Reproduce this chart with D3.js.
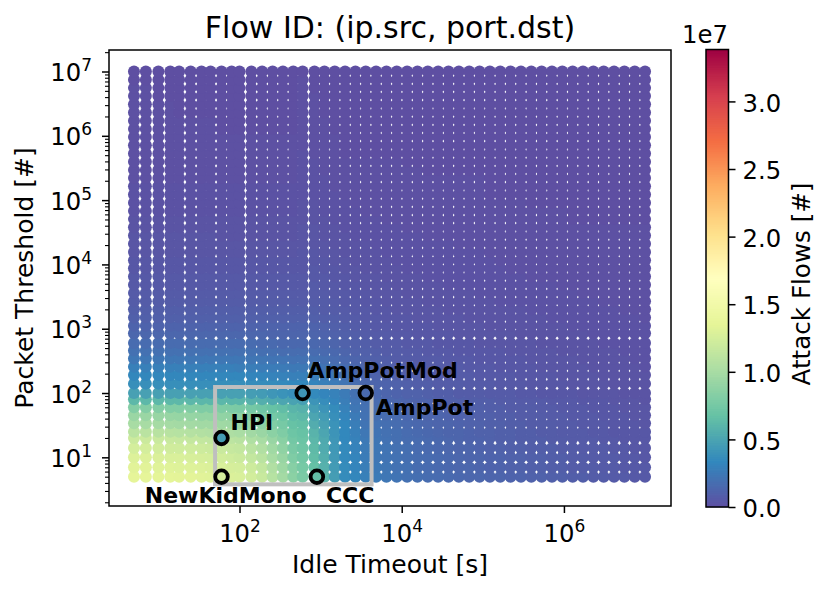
<!DOCTYPE html>
<html><head><meta charset="utf-8">
<script src="https://cdn.jsdelivr.net/npm/d3@7"></script>
<style>html,body{margin:0;padding:0;background:#fff}svg{display:block;font-family:"DejaVu Sans",sans-serif}</style>
</head><body><svg id="c" width="831" height="594"></svg>
<script>
const idleTimeouts=[5,7,10,14,18,25,34,44,60,80,100,140,190,256,343,460,600,840,1114,1494,2003,2686,3600,4829,6478,8690,11657,15637,20976,28138,37745,50632,67919,91108,122215,163943,219918,295004,395726,530838,712079,955201,1281332,1718808,2305650,3092854,4148829,5565336,7465472,10000000];
const packetThresholds=[5,7,10,14,20,25,34,45,60,80,100,140,190,256,343,460,600,850,1114,1494,2003,2686,3600,4829,6478,8690,11657,15637,20976,28138,37745,50632,67919,91108,122215,163943,219918,295004,395726,530838,712079,955201,1281332,1718808,2305650,3092854,4148829,5565336,7465472,10000000];
// attack flows in units of 1e5; one row per packet threshold, one column per idle timeout
const flowRows=[
[136,136,135,135,134,134,133,132,131,129,128,124,118,108,98,86,78,68,60,46,36,33,29,26,24,22,20,19,18,17,16,15,14,14,13,13,12,12,11,11,10,10,9,9,8,8,7,7,6,6],
[133,133,132,132,131,131,130,129,128,126,125,121,115,105,95,84,76,67,58,45,36,32,28,25,23,21,20,18,17,16,15,14,14,13,12,12,11,11,10,10,9,9,8,8,8,7,7,6,6,6],
[130,130,129,128,128,127,126,125,124,122,120,115,110,100,92,80,74,65,56,44,35,32,27,24,22,21,19,18,17,16,15,14,13,13,12,12,11,11,10,10,9,9,8,8,7,7,7,6,6,5],
[125,125,124,123,122,122,121,120,119,117,115,110,105,96,88,77,72,63,54,43,35,31,26,24,22,20,19,17,16,15,14,13,13,12,11,11,10,10,9,9,9,8,8,7,7,7,6,6,5,5],
[120,120,119,118,117,116,115,114,113,111,109,104,100,92,85,74,70,61,53,42,34,30,25,23,21,19,18,17,16,15,14,13,12,12,11,10,10,9,9,9,8,8,7,7,7,6,6,5,5,5],
[110,110,109,109,108,107,106,105,104,103,101,97,93,86,80,71,68,59,51,41,34,29,24,22,20,19,17,16,15,14,13,13,12,11,11,10,10,9,9,8,8,7,7,7,6,6,5,5,5,5],
[100,100,99,99,98,98,97,97,96,95,94,91,87,81,76,68,66,55,48,40,34,28,22,21,19,18,16,15,14,13,13,12,11,11,10,10,9,9,8,8,8,7,7,6,6,6,5,5,5,4],
[93,93,92,92,91,91,90,90,89,88,87,84,80,75,71,64,62,51,45,38,32,26,21,19,18,17,15,14,13,13,12,11,11,10,10,9,9,8,8,8,7,7,6,6,6,5,5,5,4,4],
[82,82,82,81,81,81,80,80,80,79,78,75,72,68,65,60,58,46,41,36,30,24,20,18,17,15,14,13,12,12,11,11,10,10,9,9,8,8,8,7,7,6,6,6,5,5,5,4,4,4],
[62,62,62,62,62,61,61,61,61,60,60,58,56,53,51,49,47,41,37,32,28,22,19,17,15,14,13,12,12,11,10,10,9,9,9,8,8,7,7,7,6,6,6,5,5,5,4,4,4,3],
[48,48,48,48,48,48,48,48,48,48,48,46,45,42,40,38,37,35,32,30,26,20,17,15,13,12,11,11,10,9,9,8,8,8,7,7,7,6,6,5,5,5,5,4,4,4,4,3,3,3],
[38,38,38,38,38,38,38,38,38,38,38,37,37,36,35,34,34,32,29,27,23,18,15,13,12,11,10,9,9,8,8,8,7,7,7,6,6,6,5,5,5,5,4,4,4,4,3,3,3,3],
[33,33,33,33,33,33,33,33,33,33,33,32,32,31,30,29,29,28,26,24,20,16,14,12,11,10,9,9,8,8,7,7,7,6,6,6,6,5,5,5,5,4,4,4,4,3,3,3,3,3],
[29,29,29,29,29,29,29,29,29,29,28,28,27,27,26,25,25,24,22,20,18,15,13,11,10,9,9,8,8,7,7,7,6,6,6,5,5,5,5,4,4,4,4,4,3,3,3,3,3,2],
[24,24,24,24,24,24,24,24,24,24,24,23,23,22,22,21,21,20,19,17,15,13,11,10,9,8,8,7,7,7,6,6,6,5,5,5,5,5,4,4,4,4,4,3,3,3,3,3,2,2],
[20,20,20,20,20,20,20,20,20,20,20,20,19,19,18,18,18,17,16,15,13,11,10,9,8,8,7,7,6,6,6,5,5,5,5,5,4,4,4,4,4,3,3,3,3,3,3,2,2,2],
[17,17,17,17,17,17,17,17,17,17,17,17,16,16,15,15,15,15,14,13,11,10,9,8,7,7,6,6,6,5,5,5,5,4,4,4,4,4,4,3,3,3,3,3,3,2,2,2,2,2],
[14,14,14,14,14,14,14,14,14,14,14,14,14,13,13,13,13,13,12,11,10,9,8,7,7,6,6,5,5,5,5,4,4,4,4,4,4,3,3,3,3,3,3,3,2,2,2,2,2,2],
[12,12,12,12,12,12,12,12,12,12,12,12,12,12,12,12,12,12,11,10,9,8,7,6,6,5,5,5,5,4,4,4,4,4,3,3,3,3,3,3,3,3,2,2,2,2,2,2,2,2],
[10,10,10,10,10,10,10,10,10,10,10,10,10,10,10,10,10,10,9,9,8,7,6,6,5,5,5,4,4,4,4,4,3,3,3,3,3,3,3,3,2,2,2,2,2,2,2,2,2,1],
[9,9,9,9,9,9,9,9,9,9,9,9,9,9,9,9,9,9,8,8,7,6,6,5,5,4,4,4,4,4,3,3,3,3,3,3,3,3,2,2,2,2,2,2,2,2,2,1,1,1],
[8,8,8,8,8,8,8,8,8,8,8,8,8,8,8,8,8,8,8,7,6,6,5,5,4,4,4,4,3,3,3,3,3,3,3,2,2,2,2,2,2,2,2,2,2,1,1,1,1,1],
[7,7,7,7,7,7,7,7,7,7,7,7,7,7,7,7,7,7,7,6,6,5,5,4,4,4,3,3,3,3,3,3,3,2,2,2,2,2,2,2,2,2,2,1,1,1,1,1,1,1],
[6,6,6,6,6,6,6,6,6,6,6,6,6,6,6,6,6,7,6,6,5,5,4,4,4,3,3,3,3,3,2,2,2,2,2,2,2,2,2,2,2,1,1,1,1,1,1,1,1,1],
[6,6,6,6,6,6,6,6,6,6,6,6,6,6,6,6,6,6,6,5,5,4,4,4,3,3,3,3,2,2,2,2,2,2,2,2,2,2,1,1,1,1,1,1,1,1,1,1,1,1],
[5,5,5,5,5,5,5,5,5,5,5,5,5,5,5,5,5,6,5,5,4,4,3,3,3,3,2,2,2,2,2,2,2,2,2,2,1,1,1,1,1,1,1,1,1,1,1,1,1,1],
[5,5,5,5,5,5,5,5,5,5,5,5,5,5,5,5,5,5,5,4,4,3,3,3,3,2,2,2,2,2,2,2,2,2,2,1,1,1,1,1,1,1,1,1,1,1,1,1,1,1],
[4,4,4,4,4,4,4,4,4,4,4,4,4,4,4,4,5,5,4,4,3,3,3,3,2,2,2,2,2,2,2,2,2,2,1,1,1,1,1,1,1,1,1,1,1,1,1,1,1,1],
[4,4,4,4,4,4,4,4,4,4,4,4,4,4,4,4,4,4,4,3,3,3,3,2,2,2,2,2,2,2,2,1,1,1,1,1,1,1,1,1,1,1,1,1,1,1,1,1,1,1],
[4,4,4,4,4,4,4,4,3,3,3,3,3,3,3,3,4,4,3,3,3,2,2,2,2,2,2,2,1,1,1,1,1,1,1,1,1,1,1,1,1,1,1,1,1,1,1,1,1,1],
[3,3,3,3,3,3,3,3,3,3,3,3,3,3,3,3,4,4,3,3,2,2,2,2,2,2,1,1,1,1,1,1,1,1,1,1,1,1,1,1,1,1,1,1,1,1,1,1,1,1],
[3,3,3,3,3,3,3,3,3,3,3,3,3,3,3,3,3,3,3,2,2,2,2,2,1,1,1,1,1,1,1,1,1,1,1,1,1,1,1,1,1,1,0,0,0,0,0,0,0,0],
[2,2,2,2,2,2,2,2,2,2,2,2,2,2,2,2,3,3,2,2,2,2,1,1,1,1,1,1,1,1,1,1,1,1,1,1,1,1,1,1,1,1,0,0,0,0,0,0,0,0],
[2,2,2,2,2,2,2,2,2,2,2,2,2,2,2,2,3,3,2,2,2,1,1,1,1,1,1,1,1,1,1,1,1,1,1,1,1,1,0,0,0,0,0,0,0,0,0,0,0,0],
[2,2,2,2,2,2,2,2,2,2,2,2,2,2,2,2,2,2,2,2,1,1,1,1,1,1,1,1,1,1,1,1,1,1,0,0,0,0,0,0,0,0,0,0,0,0,0,0,0,0],
[2,2,2,2,2,2,2,2,2,2,2,2,2,2,2,2,2,2,2,1,1,1,1,1,1,1,1,1,1,1,1,1,1,1,0,0,0,0,0,0,0,0,0,0,0,0,0,0,0,0],
[1,1,1,1,1,1,1,1,1,1,1,1,1,1,1,1,2,2,2,1,1,1,1,1,1,1,1,1,1,1,1,1,1,1,0,0,0,0,0,0,0,0,0,0,0,0,0,0,0,0],
[1,1,1,1,1,1,1,1,1,1,1,1,1,1,1,1,2,2,1,1,1,1,1,1,1,1,1,1,0,0,0,0,0,0,0,0,0,0,0,0,0,0,0,0,0,0,0,0,0,0],
[1,1,1,1,1,1,1,1,1,1,1,1,1,1,1,1,2,2,1,1,1,1,1,1,1,1,0,0,0,0,0,0,0,0,0,0,0,0,0,0,0,0,0,0,0,0,0,0,0,0],
[1,1,1,1,1,1,1,1,1,1,1,1,1,1,1,1,2,1,1,1,0,0,0,0,0,0,0,0,0,0,0,0,0,0,0,0,0,0,0,0,0,0,0,0,0,0,0,0,0,0],
[1,1,1,1,1,1,1,1,1,1,1,1,1,1,1,1,1,1,1,1,0,0,0,0,0,0,0,0,0,0,0,0,0,0,0,0,0,0,0,0,0,0,0,0,0,0,0,0,0,0],
[1,1,1,1,1,1,1,1,1,1,1,1,1,1,1,1,1,1,1,1,0,0,0,0,0,0,0,0,0,0,0,0,0,0,0,0,0,0,0,0,0,0,0,0,0,0,0,0,0,0],
[1,1,1,1,1,1,1,1,0,0,0,0,0,0,0,0,1,1,1,0,0,0,0,0,0,0,0,0,0,0,0,0,0,0,0,0,0,0,0,0,0,0,0,0,0,0,0,0,0,0],
[1,1,1,1,1,1,1,1,0,0,0,0,0,0,0,0,1,1,1,0,0,0,0,0,0,0,0,0,0,0,0,0,0,0,0,0,0,0,0,0,0,0,0,0,0,0,0,0,0,0],
[1,1,1,1,0,0,0,0,0,0,0,0,0,0,0,0,1,1,0,0,0,0,0,0,0,0,0,0,0,0,0,0,0,0,0,0,0,0,0,0,0,0,0,0,0,0,0,0,0,0],
[1,1,1,1,0,0,0,0,0,0,0,0,0,0,0,0,1,1,0,0,0,0,0,0,0,0,0,0,0,0,0,0,0,0,0,0,0,0,0,0,0,0,0,0,0,0,0,0,0,0],
[1,1,0,0,0,0,0,0,0,0,0,0,0,0,0,0,1,1,0,0,0,0,0,0,0,0,0,0,0,0,0,0,0,0,0,0,0,0,0,0,0,0,0,0,0,0,0,0,0,0],
[1,1,0,0,0,0,0,0,0,0,0,0,0,0,0,0,1,0,0,0,0,0,0,0,0,0,0,0,0,0,0,0,0,0,0,0,0,0,0,0,0,0,0,0,0,0,0,0,0,0],
[0,0,0,0,0,0,0,0,0,0,0,0,0,0,0,0,1,0,0,0,0,0,0,0,0,0,0,0,0,0,0,0,0,0,0,0,0,0,0,0,0,0,0,0,0,0,0,0,0,0],
[0,0,0,0,0,0,0,0,0,0,0,0,0,0,0,0,0,0,0,0,0,0,0,0,0,0,0,0,0,0,0,0,0,0,0,0,0,0,0,0,0,0,0,0,0,0,0,0,0,0]
];
const flowUnit=1e5;
const flowMax=3.384e7;
const spectralStops=["#5e4fa2","#3288bd","#66c2a5","#abdda4","#e6f598","#ffffbf","#fee08b","#fdae61","#f46d43","#d53e4f","#9e0142"];
const presetNames=["NewKidMono","CCC","HPI","AmpPotMod","AmpPot"];
const presetIdle=[60,900,60,600,3600];
const presetPackets=[5,5,20,100,100];
const presetFlows=[125,66,46,42,16];
const labelAnchor=["end","start","start","start","start"];
const boxIdle=[50,4250];
const boxPackets=[3.8,124];
const xTicks=[2,4,6];
const yTicks=[1,2,3,4,5,6,7];
const cbTicks=[0,0.5,1,1.5,2,2.5,3];

const svg=d3.select("#c");
const plot={l:109,r:671,t:50,b:506};
const x=d3.scaleLog().domain([2.46,2.09e7]).range([plot.l,plot.r]);
const y=d3.scaleLog().domain([1.75,2.16e7]).range([plot.b,plot.t]);
const color=d3.scaleLinear().domain(spectralStops.map((_,i)=>i/10*flowMax)).range(spectralStops).clamp(true);

// points, low thresholds first so the higher rows overlap them
const pts=svg.append("g");
packetThresholds.forEach((p,ri)=>{
  pts.selectAll(null).data(flowRows[ri]).enter().append("circle")
    .attr("cx",(d,ci)=>x(idleTimeouts[ci])).attr("cy",y(p)).attr("r",6)
    .attr("fill",d=>color(d*flowUnit));
});

// box
svg.append("rect").attr("x",x(boxIdle[0])).attr("y",y(boxPackets[1]))
  .attr("width",x(boxIdle[1])-x(boxIdle[0])).attr("height",y(boxPackets[0])-y(boxPackets[1]))
  .attr("fill","none").attr("stroke","#bfbfbf").attr("stroke-width",4);

// presets
const labelOffsets=[[85,26],[9,26],[9,-8],[5,-15],[10,22]];
presetNames.forEach((n,i)=>{
  const cx=x(presetIdle[i]),cy=y(presetPackets[i]);
  svg.append("circle").attr("cx",cx).attr("cy",cy).attr("r",6.3)
    .attr("fill",color(presetFlows[i]*flowUnit)).attr("stroke","#000").attr("stroke-width",3.8);
  svg.append("text").attr("x",cx+labelOffsets[i][0]).attr("y",cy+labelOffsets[i][1])
    .attr("text-anchor",labelAnchor[i]).attr("font-size",22).attr("font-weight","bold").attr("fill","#000").text(n);
});

function pow10(sel){
  sel.selectAll("text").each(function(d){
    const e=Math.round(Math.log10(d));
    const t=d3.select(this).text(null).attr("fill","#000").attr("font-size",24.3);
    t.append("tspan").text("10");
    t.append("tspan").attr("font-size",17).attr("dy",-10).text(e);
  });
}
const xAxis=d3.axisBottom(x).tickValues(xTicks.map(e=>Math.pow(10,e))).tickSize(7).tickPadding(5);
const xg=svg.append("g").attr("transform",`translate(0,${plot.b})`).call(xAxis);
xg.select(".domain").remove();
xg.selectAll("line").attr("stroke","#000").attr("stroke-width",1.5);
xg.attr("font-family",null);
pow10(xg);
xg.selectAll("text").attr("dy",null).attr("y",36);

const yAxis=d3.axisLeft(y).tickValues(yTicks.map(e=>Math.pow(10,e))).tickSize(7).tickPadding(5);
const yg=svg.append("g").attr("transform",`translate(${plot.l},0)`).call(yAxis);
yg.select(".domain").remove();
yg.selectAll("line").attr("stroke","#000").attr("stroke-width",1.5);
yg.attr("font-family",null);
pow10(yg);
yg.selectAll("text").attr("dy",null).attr("y",9).attr("x",-17);

const minors=[];
for(let e=0;e<=7;e++)for(const m of [2,3,4,5,6,7,8,9]){const v=m*Math.pow(10,e);if(v>=y.domain()[0]&&v<=y.domain()[1])minors.push(v);}
const yMinor=d3.axisLeft(y).tickValues(minors).tickSize(4).tickFormat("");
const ymg=svg.append("g").attr("transform",`translate(${plot.l},0)`).call(yMinor);
ymg.select(".domain").remove();
ymg.selectAll("line").attr("stroke","#000").attr("stroke-width",1.1);

svg.append("rect").attr("x",plot.l).attr("y",plot.t).attr("width",plot.r-plot.l).attr("height",plot.b-plot.t)
  .attr("fill","none").attr("stroke","#000").attr("stroke-width",1.5);

svg.append("text").attr("x",390).attr("y",38).attr("text-anchor","middle").attr("font-size",30).attr("fill","#000").text("Flow ID: (ip.src, port.dst)");
svg.append("text").attr("x",390).attr("y",573).attr("text-anchor","middle").attr("font-size",25).attr("fill","#000").text("Idle Timeout [s]");
svg.append("text").attr("transform","translate(33,278) rotate(-90)").attr("text-anchor","middle").attr("font-size",25).attr("fill","#000").text("Packet Threshold [#]");

// colorbar
const cb={l:706,r:728.5,t:49.5,b:507};
const cbScale=d3.scaleLinear().domain([0,flowMax/1e7]).range([cb.b,cb.t]);
const cbSteps=d3.range(256);
svg.append("g").selectAll("rect").data(cbSteps).enter().append("rect")
  .attr("x",cb.l).attr("width",cb.r-cb.l)
  .attr("y",d=>cbScale((d+1)/256*flowMax/1e7)-0.4)
  .attr("height",d=>cbScale(d/256*flowMax/1e7)-cbScale((d+1)/256*flowMax/1e7)+0.8)
  .attr("fill",d=>color((d+0.5)/256*flowMax));
svg.append("rect").attr("x",cb.l).attr("y",cb.t).attr("width",cb.r-cb.l).attr("height",cb.b-cb.t)
  .attr("fill","none").attr("stroke","#000").attr("stroke-width",1.5);
const cbAxis=d3.axisRight(cbScale).tickValues(cbTicks).tickSize(7).tickPadding(7).tickFormat(d3.format(".1f"));
const cg=svg.append("g").attr("transform",`translate(${cb.r},0)`).call(cbAxis);
cg.select(".domain").remove();
cg.attr("font-family",null);
cg.selectAll("line").attr("stroke","#000").attr("stroke-width",1.5);
cg.selectAll("text").attr("fill","#000").attr("font-size",24.3).attr("dy",".4em");
svg.append("text").attr("x",682).attr("y",43).attr("font-size",24.3).attr("fill","#000").text("1e7");
svg.append("text").attr("transform","translate(810,284) rotate(-90)").attr("text-anchor","middle").attr("font-size",24.6).attr("fill","#000").text("Attack Flows [#]");
</script></body></html>
